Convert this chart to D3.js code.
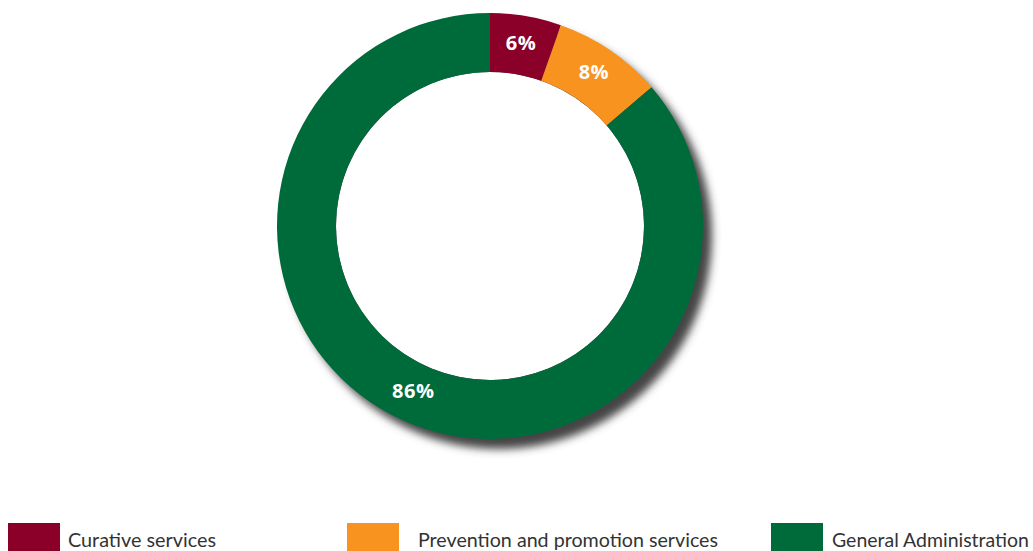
<!DOCTYPE html>
<html><head><meta charset="utf-8">
<script src="https://cdn.jsdelivr.net/npm/d3@7"></script>
<style>body{margin:0;background:#fff;}svg{display:block;}</style>
</head><body>
<svg id="c" width="1033" height="551"></svg>
<script>
const categories = ["Curative services", "Prevention and promotion services", "General Administration"];
const values = [5.4, 8.3, 86.3];
const valueLabels = ["6%", "8%", "86%"];
const colors = ["#8B0029", "#F7931E", "#006B3A"];

const svg = d3.select("#c");
const cx = 490, cy = 226, rOuter = 213, rInner = 154;
const defs = svg.append("defs");
const f = defs.append("filter").attr("id", "sh").attr("x", "-20%").attr("y", "-20%").attr("width", "140%").attr("height", "140%");
f.append("feGaussianBlur").attr("stdDeviation", 4);

const g = svg.append("g").attr("transform", `translate(${cx},${cy})`);
g.append("circle").attr("cx", 9).attr("cy", 10).attr("r", rOuter).attr("fill", "#444").attr("filter", "url(#sh)");
g.append("circle").attr("r", rInner).attr("fill", "#fff");

const pie = d3.pie().sort(null).value(d => d)(values);
const arc = d3.arc().innerRadius(rInner).outerRadius(rOuter);
g.selectAll("path.s").data(pie).join("path").attr("class", "s")
  .attr("d", arc).attr("fill", (d, i) => colors[i]);
const labArc = d3.arc().innerRadius(184).outerRadius(184);
g.selectAll("text.l").data(pie).join("text").attr("class", "l")
  .attr("transform", d => `translate(${labArc.centroid(d)})`)
  .attr("text-anchor", "middle").attr("dy", "0.25em")
  .attr("font-family", "Open Sans, sans-serif").attr("font-weight", "bold").attr("font-size", 20)
  .attr("letter-spacing", 0.5)
  .attr("fill", "#fff").text((d, i) => valueLabels[i]);

const legX = d3.scaleOrdinal().domain(categories).range([8, 347, 771]);
const textOff = [60, 71, 61];
const lg = svg.append("g");
categories.forEach((c, i) => {
  lg.append("rect").attr("x", legX(c)).attr("y", 523).attr("width", 52).attr("height", 30).attr("fill", colors[i]);
  lg.append("text").attr("x", legX(c) + textOff[i]).attr("y", 547)
    .attr("font-family", "Lato, sans-serif").attr("font-size", 19.8).attr("fill", "#333")
    .attr("textLength", [148, 300, 197][i]).attr("lengthAdjust", "spacingAndGlyphs").text(c);
});
</script>
</body></html>
